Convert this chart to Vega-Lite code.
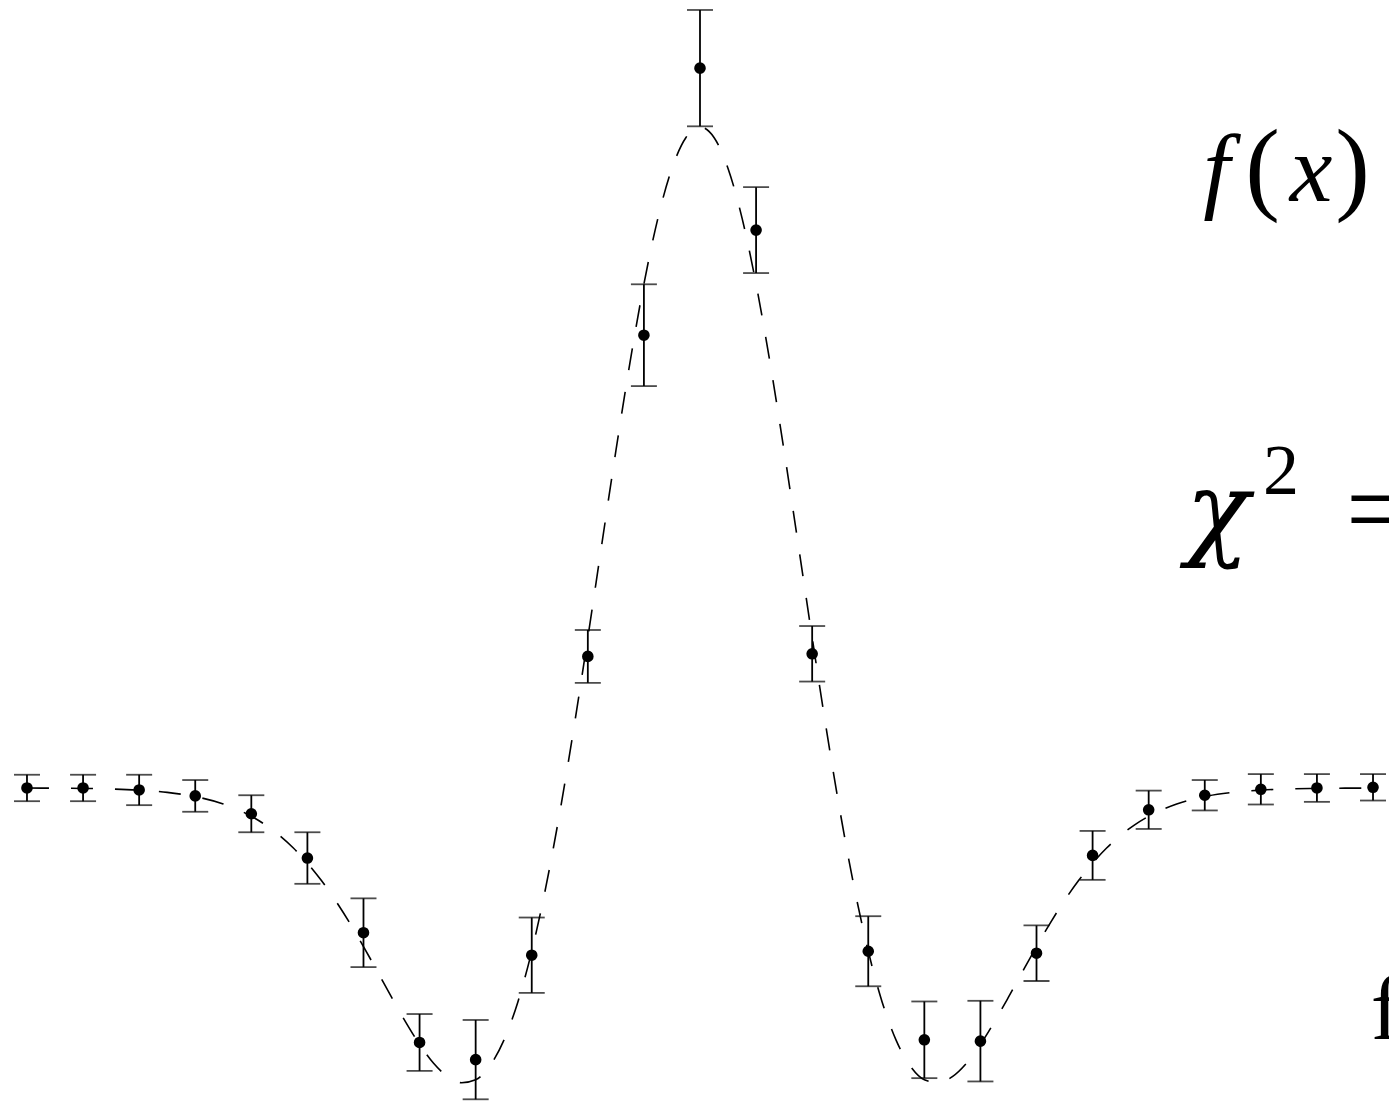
{
  "$schema": "https://vega.github.io/schema/vega-lite/v6.json",
  "width": 1389,
  "height": 1103,
  "autosize": "none",
  "padding": 0,
  "background": "white",
  "config": {"view": {"stroke": null}},
  "datasets": {
    "curve": [
      {"x": -6.0, "y": -0.0001}, {"x": -5.75, "y": -0.0003}, {"x": -5.5, "y": -0.0007}, {"x": -5.25, "y": -0.0015},
      {"x": -5.0, "y": -0.0033}, {"x": -4.75, "y": -0.0067}, {"x": -4.5, "y": -0.013}, {"x": -4.25, "y": -0.0242},
      {"x": -4.0, "y": -0.0428}, {"x": -3.875, "y": -0.0558}, {"x": -3.75, "y": -0.0717}, {"x": -3.625, "y": -0.0909},
      {"x": -3.5, "y": -0.1137}, {"x": -3.375, "y": -0.1401}, {"x": -3.25, "y": -0.1702}, {"x": -3.125, "y": -0.2036},
      {"x": -3.0, "y": -0.2399}, {"x": -2.875, "y": -0.2779}, {"x": -2.75, "y": -0.3165}, {"x": -2.625, "y": -0.3538},
      {"x": -2.5, "y": -0.388}, {"x": -2.375, "y": -0.4166}, {"x": -2.25, "y": -0.4368}, {"x": -2.125, "y": -0.446},
      {"x": -2.0, "y": -0.4415}, {"x": -1.875, "y": -0.4209}, {"x": -1.75, "y": -0.3823}, {"x": -1.625, "y": -0.3244},
      {"x": -1.5, "y": -0.2469}, {"x": -1.375, "y": -0.1505}, {"x": -1.25, "y": -0.037}, {"x": -1.125, "y": 0.0904},
      {"x": -1.0, "y": 0.2275}, {"x": -0.875, "y": 0.3693}, {"x": -0.75, "y": 0.5098}, {"x": -0.625, "y": 0.6429},
      {"x": -0.5, "y": 0.7623}, {"x": -0.375, "y": 0.8621}, {"x": -0.25, "y": 0.9373}, {"x": -0.125, "y": 0.9841},
      {"x": 0.0, "y": 1.0},
      {"x": 0.125, "y": 0.9841}, {"x": 0.25, "y": 0.9373}, {"x": 0.375, "y": 0.8621}, {"x": 0.5, "y": 0.7623},
      {"x": 0.625, "y": 0.6429}, {"x": 0.75, "y": 0.5098}, {"x": 0.875, "y": 0.3693}, {"x": 1.0, "y": 0.2275},
      {"x": 1.125, "y": 0.0904}, {"x": 1.25, "y": -0.037}, {"x": 1.375, "y": -0.1505}, {"x": 1.5, "y": -0.2469},
      {"x": 1.625, "y": -0.3244}, {"x": 1.75, "y": -0.3823}, {"x": 1.875, "y": -0.4209}, {"x": 2.0, "y": -0.4415},
      {"x": 2.125, "y": -0.446}, {"x": 2.25, "y": -0.4368}, {"x": 2.375, "y": -0.4166}, {"x": 2.5, "y": -0.388},
      {"x": 2.625, "y": -0.3538}, {"x": 2.75, "y": -0.3165}, {"x": 2.875, "y": -0.2779}, {"x": 3.0, "y": -0.2399},
      {"x": 3.125, "y": -0.2036}, {"x": 3.25, "y": -0.1702}, {"x": 3.375, "y": -0.1401}, {"x": 3.5, "y": -0.1137},
      {"x": 3.625, "y": -0.0909}, {"x": 3.75, "y": -0.0717}, {"x": 3.875, "y": -0.0558}, {"x": 4.0, "y": -0.0428},
      {"x": 4.25, "y": -0.0242}, {"x": 4.5, "y": -0.013}, {"x": 4.75, "y": -0.0067}, {"x": 5.0, "y": -0.0033},
      {"x": 5.25, "y": -0.0015}, {"x": 5.5, "y": -0.0007}, {"x": 5.75, "y": -0.0003}, {"x": 6.0, "y": -0.0001}
    ],
    "obs": [
      {"x": -6.0, "y": 0.0, "err": 0.02},
      {"x": -5.5, "y": 0.0, "err": 0.02},
      {"x": -5.0, "y": -0.003, "err": 0.023},
      {"x": -4.5, "y": -0.012, "err": 0.024},
      {"x": -4.0, "y": -0.039, "err": 0.028},
      {"x": -3.5, "y": -0.106, "err": 0.039},
      {"x": -3.0, "y": -0.219, "err": 0.052},
      {"x": -2.5, "y": -0.385, "err": 0.043},
      {"x": -2.0, "y": -0.411, "err": 0.06},
      {"x": -1.5, "y": -0.253, "err": 0.057},
      {"x": -1.0, "y": 0.199, "err": 0.04},
      {"x": -0.5, "y": 0.685, "err": 0.077},
      {"x": 0.0, "y": 1.089, "err": 0.088},
      {"x": 0.5, "y": 0.844, "err": 0.065},
      {"x": 1.0, "y": 0.203, "err": 0.042},
      {"x": 1.5, "y": -0.247, "err": 0.053},
      {"x": 2.0, "y": -0.381, "err": 0.058},
      {"x": 2.5, "y": -0.383, "err": 0.061},
      {"x": 3.0, "y": -0.25, "err": 0.042},
      {"x": 3.5, "y": -0.102, "err": 0.037},
      {"x": 4.0, "y": -0.033, "err": 0.029},
      {"x": 4.5, "y": -0.011, "err": 0.023},
      {"x": 5.0, "y": -0.002, "err": 0.023},
      {"x": 5.5, "y": 0.0, "err": 0.021},
      {"x": 6.0, "y": 0.001, "err": 0.02}
    ],
    "fx_italic": [
      {"x": 4.6046, "y": 0.888, "t": "f"},
      {"x": 5.4471, "y": 0.888, "t": "x"}
    ],
    "fx_parens": [
      {"x": 5.0147, "y": 0.888, "t": "("},
      {"x": 5.8171, "y": 0.888, "t": ")"}
    ],
    "fit_word": [
      {"x": 5.98, "y": -0.3797, "t": "f"}
    ],
    "chi": [
      {"x": 4.6135, "y": 0.3661, "t": "χ"}
    ],
    "equals": [
      {"x": 5.76, "y": 0.3661, "t": "="}
    ],
    "superscript": [
      {"x": 5.1797, "y": 0.4448, "t": "2"}
    ]
  },
  "encoding": {
    "x": {"field": "x", "type": "quantitative", "axis": null,
          "scale": {"domain": [-6.2405, 6.1425], "nice": false, "zero": false}},
    "y": {"field": "y", "type": "quantitative", "axis": null,
          "scale": {"domain": [-0.4766, 1.1921], "nice": false, "zero": false}}
  },
  "layer": [
    {
      "data": {"name": "curve"},
      "mark": {"type": "line", "color": "black", "strokeWidth": 1.6, "strokeDash": [22, 22], "interpolate": "monotone"},
      "encoding": {}
    },
    {
      "data": {"name": "obs"},
      "mark": {"type": "errorbar", "color": "black", "thickness": 1.8,
               "ticks": {"size": 26, "thickness": 1.8, "color": "black"}},
      "encoding": {"yError": {"field": "err"}}
    },
    {
      "data": {"name": "obs"},
      "mark": {"type": "circle", "color": "black", "opacity": 1, "size": 135}
    },
    {
      "data": {"name": "fx_italic"},
      "mark": {"type": "text", "font": "Liberation Serif", "fontStyle": "italic", "fontSize": 96, "align": "center", "baseline": "alphabetic", "color": "black"},
      "encoding": {"text": {"field": "t"}}
    },
    {
      "data": {"name": "fx_parens"},
      "mark": {"type": "text", "font": "Liberation Serif", "fontSize": 104, "align": "center", "baseline": "alphabetic", "color": "black"},
      "encoding": {"text": {"field": "t"}}
    },
    {
      "data": {"name": "fit_word"},
      "mark": {"type": "text", "font": "Liberation Serif", "fontSize": 92, "align": "left", "baseline": "alphabetic", "color": "black"},
      "encoding": {"text": {"field": "t"}}
    },
    {
      "data": {"name": "chi"},
      "mark": {"type": "text", "font": "DejaVu Serif", "fontStyle": "italic", "fontSize": 105, "align": "center", "baseline": "alphabetic", "color": "black"},
      "encoding": {"text": {"field": "t"}}
    },
    {
      "data": {"name": "equals"},
      "mark": {"type": "text", "font": "Liberation Serif", "fontSize": 110, "align": "left", "baseline": "alphabetic", "color": "black"},
      "encoding": {"text": {"field": "t"}}
    },
    {
      "data": {"name": "superscript"},
      "mark": {"type": "text", "font": "Liberation Serif", "fontSize": 72, "align": "center", "baseline": "alphabetic", "color": "black"},
      "encoding": {"text": {"field": "t"}}
    }
  ]
}
